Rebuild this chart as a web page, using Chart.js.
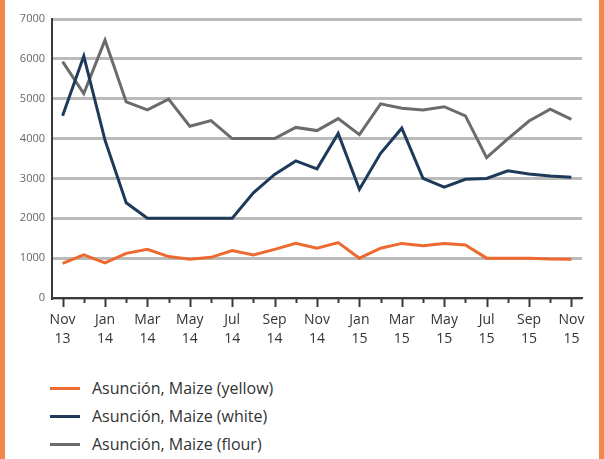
<!DOCTYPE html>
<html>
<head>
<meta charset="utf-8">
<script src="https://cdn.jsdelivr.net/npm/chart.js@4"></script>
<style>
  html, body { margin: 0; padding: 0; background: #fff; }
  #frame { position: relative; width: 604px; height: 459px; overflow: hidden; background: #fff; }
  #frame::before, #frame::after { content: ''; position: absolute; top: 0; bottom: 0; width: 5px; background: #f0894a; }
  #frame::before { left: 0; }
  #frame::after { right: 0; }
  #wrap { position: absolute; left: 0; top: 0; width: 604px; height: 360px; }
  #legend { position: absolute; left: 50px; top: 374px; font-family: 'Open Sans', sans-serif; font-size: 16px; color: #333; }
  .row { height: 28px; display: flex; align-items: center; }
  .swatch { width: 30px; height: 3px; margin-right: 12px; }
</style>
</head>
<body>
<div id="frame">
  <div id="wrap"><canvas id="chart" width="604" height="360"></canvas></div>
  <div id="legend"></div>
</div>
<script>
const categories = ['Nov 13', 'Dec 13', 'Jan 14', 'Feb 14', 'Mar 14', 'Apr 14', 'May 14', 'Jun 14', 'Jul 14',
    'Aug 14', 'Sep 14', 'Oct 14', 'Nov 14', 'Dec 14', 'Jan 15', 'Feb 15', 'Mar 15', 'Apr 15', 'May 15',
    'Jun 15', 'Jul 15', 'Aug 15', 'Sep 15', 'Oct 15', 'Nov 15'];

const yellowMaize = [870, 1080, 880, 1120, 1220, 1040, 970, 1020, 1190, 1080, 1220, 1370, 1250,
    1390, 1000, 1250, 1370, 1310, 1370, 1330, 1000, 1000, 1000, 980, 970];
const whiteMaize = [4570, 6070, 3960, 2390, 2000, 2000, 2000, 2000, 2000, 2640, 3100, 3440, 3240,
    4130, 2730, 3630, 4260, 3000, 2780, 2980, 3000, 3190, 3110, 3060, 3030];
const flourMaize = [5930, 5130, 6470, 4920, 4720, 4990, 4310, 4450, 4000, 4000, 4000, 4280, 4200,
    4500, 4100, 4870, 4760, 4720, 4800, 4570, 3520, 3990, 4440, 4740, 4480];

const yTicks = [0, 1000, 2000, 3000, 4000, 5000, 6000, 7000];

const SERIES = [
    { label: 'Asunción, Maize (yellow)', data: yellowMaize, color: '#ec6a2f' },
    { label: 'Asunción, Maize (white)', data: whiteMaize, color: '#1e3a5a' },
    { label: 'Asunción, Maize (flour)', data: flourMaize, color: '#6b6b6b' }
];

// short/long tick marks under the x axis
const tickMarks = {
    id: 'tickMarks',
    afterDraw(chart) {
        const { ctx, chartArea, scales: { x } } = chart;
        ctx.save();
        ctx.strokeStyle = '#3a3a3a';
        ctx.lineWidth = 2;
        categories.forEach((c, i) => {
            const px = Math.round(x.getPixelForValue(i)) + 0.5;
            ctx.beginPath();
            ctx.moveTo(px, chartArea.bottom);
            ctx.lineTo(px, chartArea.bottom + (i % 2 === 0 ? 9 : 5));
            ctx.stroke();
        });
        ctx.restore();
    }
};

new Chart(document.getElementById('chart'), {
    type: 'line',
    data: {
        labels: categories,
        datasets: SERIES.map(s => ({
            label: s.label, data: s.data, borderColor: s.color, backgroundColor: s.color,
            borderWidth: 3, pointRadius: 0, tension: 0
        }))
    },
    options: {
        responsive: false, animation: false,
        layout: { padding: { left: 0, right: 22, top: 19, bottom: 0 } },
        plugins: { legend: { display: false }, tooltip: { enabled: false } },
        scales: {
            x: {
                offset: true,
                grid: { display: false, drawTicks: false },
                border: { display: true, color: '#3a3a3a', width: 2 },
                afterFit: s => { s.height = 62; },
                ticks: {
                    autoSkip: false, maxRotation: 0, padding: 13,
                    color: '#333', font: { family: 'Open Sans', size: 14, lineHeight: 1.35 },
                    callback: (v, i) => i % 2 === 0 ? categories[i].split(' ') : ''
                }
            },
            y: {
                min: 0, max: 7000,
                afterBuildTicks: s => { s.ticks = yTicks.map(v => ({ value: v })); },
                afterFit: s => { s.width = 52; },
                grid: { color: '#bbbbbb', lineWidth: 3, drawTicks: false },
                border: { display: true, color: '#3a3a3a', width: 2 },
                ticks: {
                    padding: 7, color: '#666', font: { family: 'Open Sans', size: 11 },
                    callback: v => String(v)
                }
            }
        }
    },
    plugins: [tickMarks]
});

const legend = document.getElementById('legend');
for (const s of SERIES) {
    const row = document.createElement('div');
    row.className = 'row';
    row.innerHTML = '<span class="swatch" style="background:' + s.color + '"></span><span>' + s.label + '</span>';
    legend.appendChild(row);
}
</script>
</body>
</html>
